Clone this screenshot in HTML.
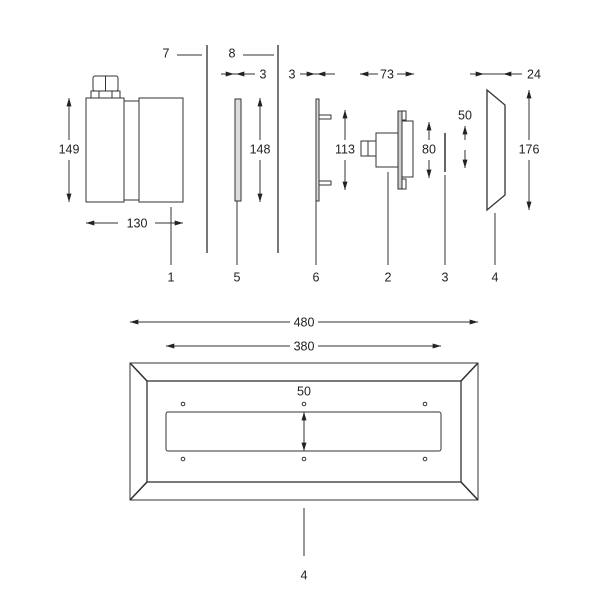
<!DOCTYPE html>
<html><head><meta charset="utf-8"><style>
html,body{margin:0;padding:0;background:#fff;}
svg{display:block;}
text{font-family:"Liberation Sans",sans-serif;font-size:12.5px;fill:#222;text-anchor:middle;dominant-baseline:middle;}
</style></head><body>
<svg width="603" height="603" viewBox="0 0 603 603" xmlns="http://www.w3.org/2000/svg">
<defs>
<marker id="a" viewBox="0 0 10 6" refX="10" refY="3" markerWidth="9" markerHeight="5" orient="auto-start-reverse" markerUnits="userSpaceOnUse">
<path d="M0,0 L10,3 L0,6 z" fill="#222"/></marker>
</defs>
<g stroke="#333" stroke-width="1" fill="none">
<!-- part 1 -->
<rect x="86" y="98" width="38" height="104"/>
<rect x="124" y="101" width="15" height="99"/>
<rect x="139" y="98" width="44" height="104"/>
<rect x="93" y="76" width="25" height="15" rx="2"/>
<line x1="105.5" y1="76" x2="105.5" y2="91"/>
<rect x="91" y="91" width="29" height="7"/>
<line x1="99" y1="91" x2="99" y2="98"/><line x1="112" y1="91" x2="112" y2="98"/>
<line x1="69" y1="140" x2="69" y2="98" marker-end="url(#a)"/>
<line x1="69" y1="160" x2="69" y2="202" marker-end="url(#a)"/>
<line x1="118" y1="223" x2="86" y2="223" marker-end="url(#a)"/>
<line x1="155" y1="223" x2="183" y2="223" marker-end="url(#a)"/>
<line x1="171" y1="207" x2="171" y2="265"/>
<!-- panels 7 8 -->
<line x1="207" y1="45" x2="207" y2="253" stroke-width="1.6" stroke="#555"/>
<line x1="278" y1="45" x2="278" y2="253" stroke-width="1.6" stroke="#555"/>
<line x1="177" y1="55" x2="202" y2="55"/>
<line x1="243" y1="55" x2="274" y2="55"/>
<line x1="221" y1="74" x2="255" y2="74"/>
<line x1="221" y1="74" x2="234" y2="74" marker-end="url(#a)"/>
<line x1="255" y1="74" x2="236" y2="74" marker-end="url(#a)"/>
<line x1="300" y1="74" x2="335" y2="74"/>
<line x1="300" y1="74" x2="315" y2="74" marker-end="url(#a)"/>
<line x1="335" y1="74" x2="317" y2="74" marker-end="url(#a)"/>
<!-- part 5 -->
<rect x="235" y="99" width="6" height="102" fill="#ddd"/>
<line x1="237" y1="201" x2="237" y2="265"/>
<line x1="260" y1="140" x2="260" y2="98" marker-end="url(#a)"/>
<line x1="260" y1="160" x2="260" y2="202" marker-end="url(#a)"/>
<!-- part 6 -->
<rect x="316" y="99" width="3" height="102" fill="#ddd"/>
<rect x="319" y="115" width="12" height="4"/>
<rect x="319" y="181" width="12" height="4"/>
<line x1="316" y1="201" x2="316" y2="265"/>
<line x1="345" y1="140" x2="345" y2="110" marker-end="url(#a)"/>
<line x1="345" y1="160" x2="345" y2="190" marker-end="url(#a)"/>
<!-- part 2 -->
<line x1="360" y1="74" x2="378" y2="74" marker-start="url(#a)"/>
<line x1="397" y1="74" x2="414" y2="74" marker-end="url(#a)"/>
<rect x="398" y="111" width="4" height="78" fill="#ccc"/>
<rect x="402" y="111" width="4" height="9"/>
<rect x="402" y="179" width="4" height="10"/>
<rect x="402" y="121" width="11" height="56"/>
<rect x="376" y="133" width="22" height="34"/>
<rect x="361" y="141" width="7" height="15"/>
<rect x="368" y="141" width="8" height="15"/>
<line x1="388" y1="172" x2="388" y2="265"/>
<line x1="429" y1="140" x2="429" y2="122" marker-end="url(#a)"/>
<line x1="429" y1="160" x2="429" y2="178" marker-end="url(#a)"/>
<!-- part 3 -->
<line x1="445" y1="133" x2="445" y2="172" stroke-width="2" stroke="#666"/>
<line x1="445" y1="175" x2="445" y2="265"/>
<line x1="465" y1="140" x2="465" y2="126" marker-end="url(#a)"/>
<line x1="465" y1="150" x2="465" y2="168" marker-end="url(#a)"/>
<!-- part 4 -->
<polygon points="487,90 505,105 505,195 487,210" stroke-width="1.3"/>
<line x1="495" y1="213" x2="495" y2="265"/>
<line x1="470" y1="74" x2="522" y2="74"/>
<line x1="470" y1="74" x2="484" y2="74" marker-end="url(#a)"/>
<line x1="522" y1="74" x2="503" y2="74" marker-end="url(#a)"/>
<line x1="529" y1="140" x2="529" y2="90" marker-end="url(#a)"/>
<line x1="529" y1="160" x2="529" y2="210" marker-end="url(#a)"/>
<!-- bottom -->
<line x1="290" y1="322" x2="130" y2="322" marker-end="url(#a)"/>
<line x1="318" y1="322" x2="478" y2="322" marker-end="url(#a)"/>
<line x1="290" y1="346" x2="166" y2="346" marker-end="url(#a)"/>
<line x1="318" y1="346" x2="441" y2="346" marker-end="url(#a)"/>
<rect x="130" y="363" width="348" height="137"/>
<rect x="147" y="381" width="314" height="101" stroke-width="1.3"/>
<g stroke-width="1.6"><line x1="130" y1="363" x2="147" y2="381"/><line x1="478" y1="363" x2="461" y2="381"/><line x1="130" y1="500" x2="147" y2="482"/><line x1="478" y1="500" x2="461" y2="482"/></g>
<rect x="166" y="412" width="275" height="39" rx="2"/>
<g stroke-width="1"><circle cx="183" cy="404" r="1.8"/><circle cx="304" cy="404" r="1.8"/><circle cx="425" cy="404" r="1.8"/><circle cx="183" cy="459" r="1.8"/><circle cx="304" cy="459" r="1.8"/><circle cx="425" cy="459" r="1.8"/></g>
<line x1="304" y1="432" x2="304" y2="412" marker-end="url(#a)"/>
<line x1="304" y1="432" x2="304" y2="451" marker-end="url(#a)"/>
<line x1="304" y1="508" x2="304" y2="556"/>
</g>
<text x="166" y="54">7</text><text x="232" y="54">8</text>
<text x="263" y="75">3</text><text x="292" y="75">3</text>
<text x="387" y="75">73</text><text x="534" y="75">24</text>
<text x="69" y="150">149</text><text x="137" y="224">130</text>
<text x="260" y="150">148</text><text x="345" y="150">113</text>
<text x="429" y="150">80</text><text x="465" y="116">50</text>
<text x="529" y="150">176</text>
<text x="171" y="278">1</text><text x="237" y="278">5</text><text x="316" y="278">6</text>
<text x="388" y="278">2</text><text x="445" y="278">3</text><text x="495" y="278">4</text>
<text x="304" y="323">480</text><text x="304" y="347">380</text>
<text x="304" y="392">50</text><text x="304" y="576">4</text>
</svg>
</body></html>
